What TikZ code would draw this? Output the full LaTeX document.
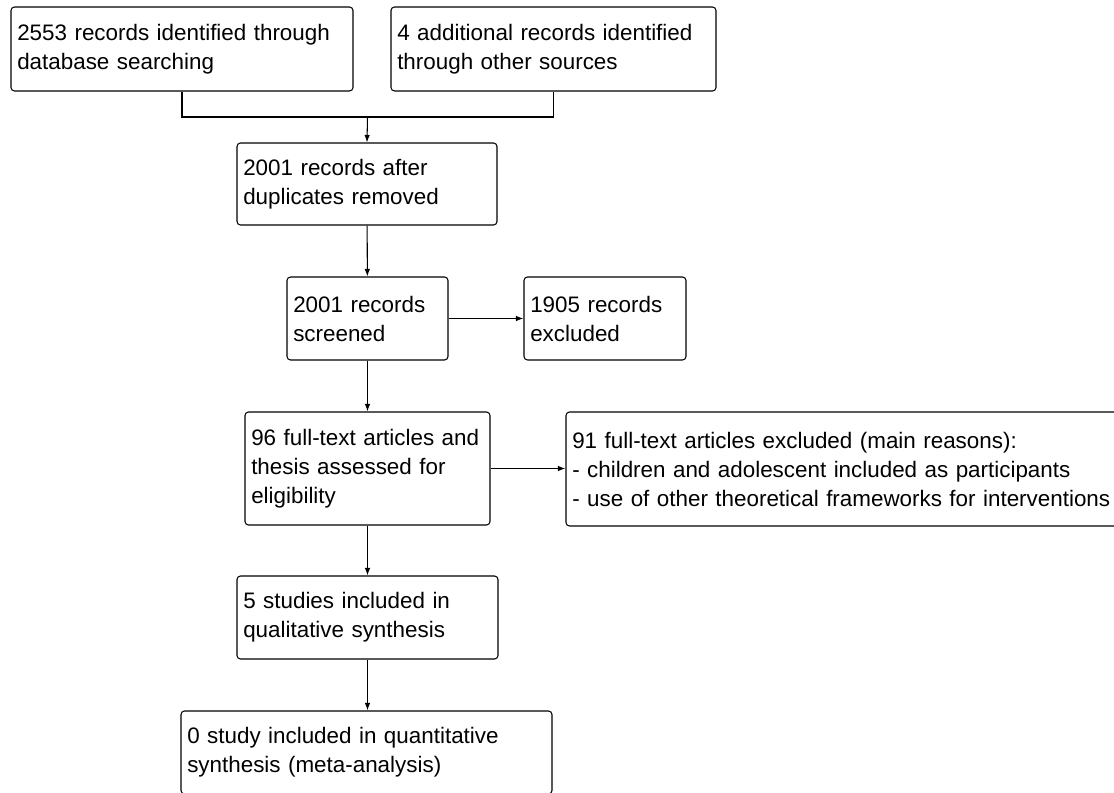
\documentclass[tikz,border=0pt]{standalone}
\usepackage{fontspec}
\setmainfont{Liberation Sans}
\usepackage{tikz}
\usetikzlibrary{arrows.meta}
\hyphenpenalty=10000

\tikzset{
  rec/.style={draw, line width=0.6pt, rounded corners=2pt, align=left,
    inner xsep=0.125cm, inner ysep=0pt,
    font=\fontsize{12.75}{16.5}\selectfont},
  flow/.style={line width=0.6pt, -{Latex[length=1.5mm,width=1.1mm]}}
}

\begin{document}
\begin{tikzpicture}
\useasboundingbox (0,0) rectangle (22.28,15.84);

\path (3.64,14.86) node[rec, text width=6.59cm, minimum height=1.68cm] (rdb) {2553 records identified through\\database searching}
	  (11.07,14.86) node[rec, text width=6.25cm, minimum height=1.68cm] (roth) {4 additional records identified\\through other sources};

\path (7.34,12.16) node[rec, text width=4.95cm, minimum height=1.64cm] (dup) {2001 records after\\duplicates removed}
	  (7.35,9.47) node[rec, text width=2.97cm, minimum height=1.66cm] (scr) {2001 records\\screened}
	  (12.10,9.47) node[rec, text width=2.99cm, minimum height=1.66cm] (exc) {1905 records\\excluded};

\path (7.35,6.47) node[rec, text width=4.65cm, minimum height=2.26cm] (full) {96 full-text articles and\\thesis assessed for\\eligibility}
	  (16.86,6.46) node[rec, text width=10.83cm, minimum height=2.28cm] (fexc) {91 full-text articles excluded (main reasons):\\- children and adolescent included as participants\\- use of other theoretical frameworks for interventions};

\path (7.35,3.49) node[rec, text width=4.97cm, minimum height=1.66cm] (qual) {5 studies included in\\qualitative synthesis}
	  (7.33,0.79) node[rec, text width=7.17cm, minimum height=1.66cm] (quan) {0 study included in quantitative\\synthesis (meta-analysis)};

\coordinate (join) at (7.35,13.5);

\draw[line width=0.6pt] (rdb.south) |- (join) -| (roth.south);
\draw[flow] (join) -- (dup.north);
\draw[flow] (dup) -- (scr);
\draw[flow] (scr) -- (exc);
\draw[flow] (scr) -- (full);
\draw[flow] (full) -- (full.east -| fexc.west);
\draw[flow] (full) -- (qual);
\draw[flow] (qual) -- (qual.south |- quan.north);
\end{tikzpicture}
\end{document}
